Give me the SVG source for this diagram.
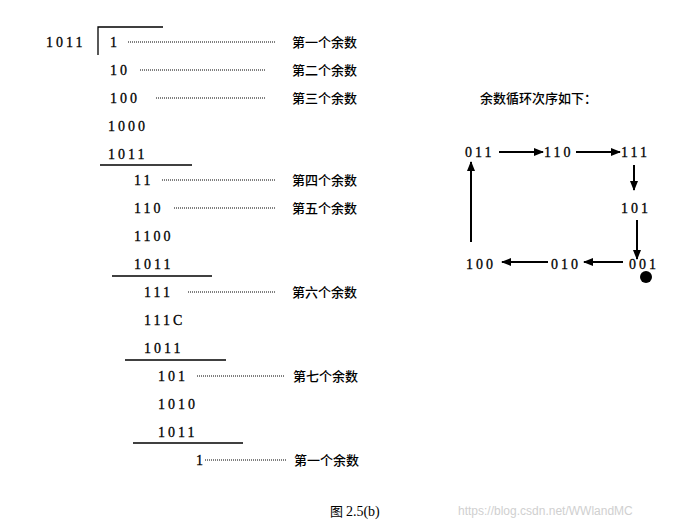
<svg xmlns="http://www.w3.org/2000/svg" width="692" height="528" viewBox="0 0 692 528">
<defs>
<marker id="ah" markerWidth="10" markerHeight="8" refX="9" refY="4" orient="auto" markerUnits="userSpaceOnUse"><path d="M0,0 L10,4 L0,8 Z" fill="#000"/></marker>
<style>
.n{font-family:"Liberation Serif",serif;font-size:14px;letter-spacing:3px;fill:#000;stroke:#000;stroke-width:0.3}
.c{font-family:"Noto Sans CJK SC",sans-serif;font-size:13px;fill:#000;font-weight:500}
.d{stroke:#000;stroke-width:1;stroke-dasharray:1 1}
.l{stroke:#000;stroke-width:1.3}
.a{stroke:#000;stroke-width:2;marker-end:url(#ah)}
</style>
</defs>
<rect width="692" height="528" fill="#fff"/>
<g id="division">
<path d="M98,55 V27 H163" fill="none" stroke="#000" stroke-width="1.3"/>
<text class="n" x="46" y="47">1011</text>
<text class="n" x="110" y="47">1</text><line class="d" x1="128" y1="42" x2="276" y2="42"/><text class="c" x="292" y="47">第一个余数</text>
<text class="n" x="110" y="75">10</text><line class="d" x1="140" y1="70" x2="266" y2="70"/><text class="c" x="292" y="75">第二个余数</text>
<text class="n" x="110" y="103">100</text><line class="d" x1="156" y1="98" x2="266" y2="98"/><text class="c" x="292" y="103">第三个余数</text>
<text class="n" x="108" y="131">1000</text>
<text class="n" x="108" y="159">1011</text><line class="l" x1="100" y1="165" x2="192" y2="165"/>
<text class="n" x="134" y="185">11</text><line class="d" x1="162" y1="180" x2="276" y2="180"/><text class="c" x="292" y="185">第四个余数</text>
<text class="n" x="134" y="213">110</text><line class="d" x1="174" y1="208" x2="276" y2="208"/><text class="c" x="292" y="213">第五个余数</text>
<text class="n" x="134" y="241">1100</text>
<text class="n" x="134" y="269">1011</text><line class="l" x1="112" y1="276" x2="212" y2="276"/>
<text class="n" x="144" y="297">111</text><line class="d" x1="188" y1="292" x2="276" y2="292"/><text class="c" x="292" y="297">第六个余数</text>
<text class="n" x="144" y="325">111C</text>
<text class="n" x="144" y="353">1011</text><line class="l" x1="125" y1="360" x2="226" y2="360"/>
<text class="n" x="158" y="381">101</text><line class="d" x1="197" y1="376" x2="285" y2="376"/><text class="c" x="293" y="381">第七个余数</text>
<text class="n" x="158" y="409">1010</text>
<text class="n" x="158" y="437">1011</text><line class="l" x1="133" y1="443" x2="243" y2="443"/>
<text class="n" x="196" y="465">1</text><line class="d" x1="205" y1="460" x2="286" y2="460"/><text class="c" x="294" y="465">第一个余数</text>
</g>
<text class="c" x="480" y="103">余数循环次序如下：</text>
<g id="n011"><text class="n" x="465" y="157">011</text></g>
<g id="n110"><text class="n" x="544" y="157">110</text></g>
<g id="n111"><text class="n" x="621" y="157">111</text></g>
<g id="n101"><text class="n" x="621" y="213">101</text></g>
<g id="n001"><text class="n" x="629" y="269">001</text><circle cx="646" cy="277" r="6" fill="#000"/></g>
<g id="n010"><text class="n" x="551" y="269">010</text></g>
<g id="n100"><text class="n" x="466" y="269">100</text></g>
<g id="connectors">
<line class="a" x1="499" y1="152" x2="543" y2="152"/>
<line class="a" x1="576" y1="152" x2="620" y2="152"/>
<line class="a" x1="634" y1="165" x2="634" y2="190"/>
<line class="a" x1="637" y1="220" x2="637" y2="259"/>
<line class="a" x1="623" y1="262" x2="584" y2="262"/>
<line class="a" x1="548" y1="262" x2="502" y2="262"/>
<line class="a" x1="471" y1="242" x2="471" y2="162"/>
</g>
<text x="330" y="516" style="font-family:'Noto Sans CJK SC',serif;font-size:13px">图 <tspan style="font-family:'Liberation Serif',serif;font-size:14px">2.5(b)</tspan></text>
<text x="458" y="515" style="font-family:'Liberation Sans',sans-serif;font-size:12px;fill:#d0d0d0">https://blog.csdn.net/WWlandMC</text>
</svg>
